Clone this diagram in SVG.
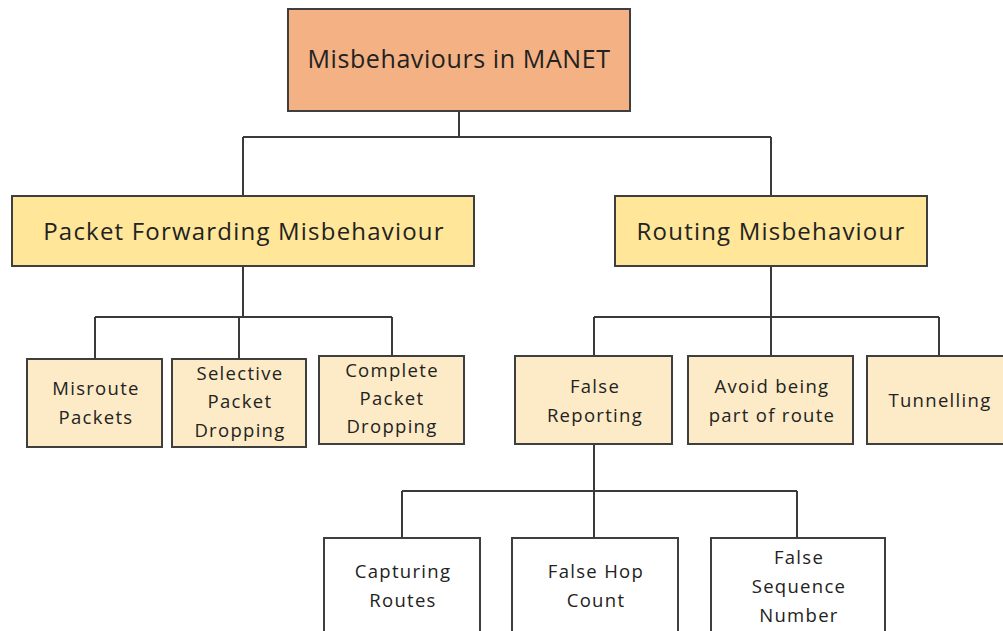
<svg xmlns="http://www.w3.org/2000/svg" width="1003" height="631" viewBox="0 0 1003 631">
  <style>
    .box { stroke: #3f3f3f; stroke-width: 2; }
    .root { fill: #F4B183; }
    .l2 { fill: #FFE699; }
    .l3 { fill: #FCEBC6; }
    .l4 { fill: #FFFFFF; }
    .wire { fill: none; stroke: #3a3a3a; stroke-width: 2; }
    text { font-family: "Open Sans", "Liberation Sans", sans-serif; fill: #222222; text-anchor: middle; }
    .t1 { font-size: 25px; letter-spacing: 0.6px; }
    .t2 { font-size: 24px; letter-spacing: 1.2px; }
    .t3 { font-size: 18.5px; letter-spacing: 1.3px; }
  </style>
  <rect width="1003" height="631" fill="#FFFFFF"/>

  <g id="connectors">
    <path class="wire" d="M459 111 V137 M243 137 H771 M243 137 V196 M771 137 V196"/>
    <path class="wire" d="M243 266 V317 M95 317 H392 M95 317 V359 M239 317 V359 M392 317 V356"/>
    <path class="wire" d="M771 266 V317 M594 317 H939 M594 317 V356 M771 317 V356 M939 317 V356"/>
    <path class="wire" d="M594 444 V491 M402 491 H797 M402 491 V538 M594 491 V538 M797 491 V538"/>
  </g>

  <g id="misbehaviours-in-manet">
    <rect class="box root" x="288" y="9" width="342" height="102"/>
    <text class="t1" x="459" y="68">Misbehaviours in MANET</text>
  </g>

  <g id="packet-forwarding-misbehaviour">
    <rect class="box l2" x="12" y="196" width="462" height="70"/>
    <text class="t2" x="244" y="240">Packet Forwarding Misbehaviour</text>
  </g>

  <g id="routing-misbehaviour">
    <rect class="box l2" x="615" y="196" width="312" height="70"/>
    <text class="t2" x="771" y="240">Routing Misbehaviour</text>
  </g>

  <g id="misroute-packets">
    <rect class="box l3" x="27" y="359" width="135" height="88"/>
    <text class="t3" x="96" y="395">Misroute</text>
    <text class="t3" x="96" y="424">Packets</text>
  </g>

  <g id="selective-packet-dropping">
    <rect class="box l3" x="172" y="359" width="134" height="88"/>
    <text class="t3" x="240" y="380">Selective</text>
    <text class="t3" x="240" y="408">Packet</text>
    <text class="t3" x="240" y="437">Dropping</text>
  </g>

  <g id="complete-packet-dropping">
    <rect class="box l3" x="319" y="356" width="145" height="88"/>
    <text class="t3" x="392" y="377">Complete</text>
    <text class="t3" x="392" y="405">Packet</text>
    <text class="t3" x="392" y="433">Dropping</text>
  </g>

  <g id="false-reporting">
    <rect class="box l3" x="515" y="356" width="157" height="88"/>
    <text class="t3" x="595" y="393">False</text>
    <text class="t3" x="595" y="422">Reporting</text>
  </g>

  <g id="avoid-being-part-of-route">
    <rect class="box l3" x="688" y="356" width="165" height="88"/>
    <text class="t3" x="772" y="393">Avoid being</text>
    <text class="t3" x="772" y="422">part of route</text>
  </g>

  <g id="tunnelling">
    <rect class="box l3" x="867" y="356" width="150" height="88"/>
    <text class="t3" x="940" y="407">Tunnelling</text>
  </g>

  <g id="capturing-routes">
    <rect class="box l4" x="324" y="538" width="156" height="110"/>
    <text class="t3" x="403" y="578">Capturing</text>
    <text class="t3" x="403" y="607">Routes</text>
  </g>

  <g id="false-hop-count">
    <rect class="box l4" x="512" y="538" width="166" height="110"/>
    <text class="t3" x="596" y="578">False Hop</text>
    <text class="t3" x="596" y="607">Count</text>
  </g>

  <g id="false-sequence-number">
    <rect class="box l4" x="711" y="538" width="174" height="110"/>
    <text class="t3" x="799" y="564">False</text>
    <text class="t3" x="799" y="593">Sequence</text>
    <text class="t3" x="799" y="622">Number</text>
  </g>
</svg>
